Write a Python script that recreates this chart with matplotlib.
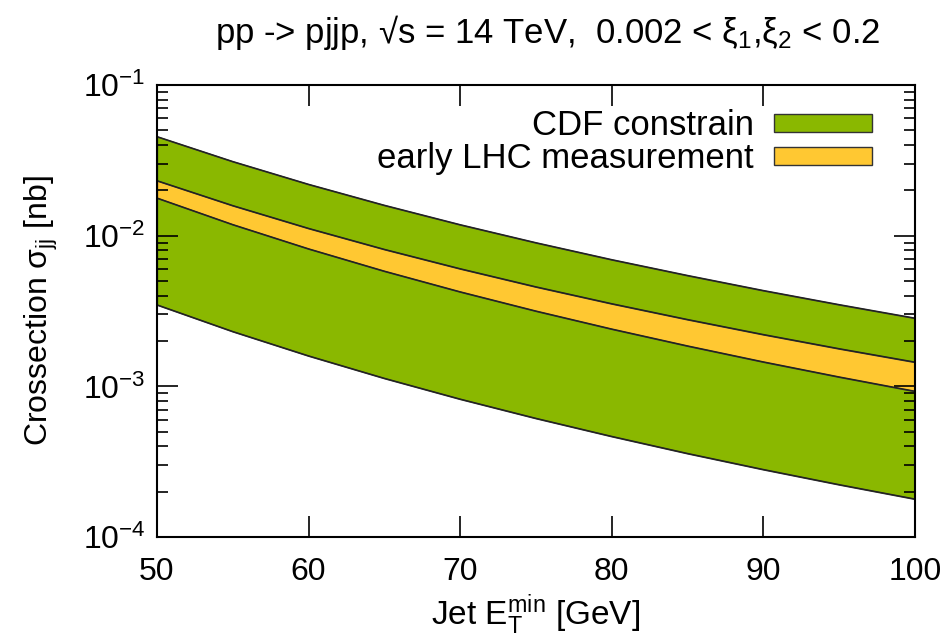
import matplotlib
matplotlib.use("Agg")
import matplotlib.pyplot as plt
from matplotlib.ticker import LogLocator, MultipleLocator, NullFormatter

plt.rcParams['font.family'] = ['Liberation Sans', 'DejaVu Sans']
plt.rcParams['mathtext.default'] = 'regular'
plt.rcParams['axes.unicode_minus'] = False

# jet E_T^min [GeV]
et_min = [50, 55, 60, 65, 70, 75, 80, 85, 90, 95, 100]

# CDF constrain band [nb]
cdf_hi = [0.0455, 0.03108, 0.02194, 0.01593, 0.01184, 0.00899, 0.00694,
          0.00545, 0.00433, 0.00349, 0.00284]
cdf_lo = [0.00348, 0.002314, 0.001595, 0.001132, 0.000824, 0.000614,
          0.000466, 0.000359, 0.000281, 0.000223, 0.000179]

# early LHC measurement band [nb]
lhc_hi = [0.0232, 0.01585, 0.01119, 0.00812, 0.00604, 0.00458, 0.00354,
          0.00278, 0.00221, 0.00178, 0.00145]
lhc_lo = [0.0178, 0.01186, 0.008187, 0.005821, 0.004245, 0.003164,
          0.002404, 0.001857, 0.001455, 0.001156, 0.000929]

green = '#8ab800'
orange = '#ffc832'

fig = plt.figure(figsize=(9.51, 6.44), dpi=100)
ax = fig.add_axes([0.165, 0.166, 0.797, 0.702])

ax.fill_between(et_min, cdf_lo, cdf_hi, color=green, linewidth=0,
                label='CDF constrain')
ax.fill_between(et_min, lhc_lo, lhc_hi, color=orange, linewidth=0,
                label='early LHC measurement')
for curve in (cdf_hi, cdf_lo, lhc_hi, lhc_lo):
    ax.plot(et_min, curve, color='#222222', linewidth=1.0)

ax.set_yscale('log')
ax.set_xlim(50, 100)
ax.set_ylim(1e-4, 1e-1)

ax.xaxis.set_major_locator(MultipleLocator(10))
ax.yaxis.set_major_locator(LogLocator(base=10, numticks=10))
ax.yaxis.set_minor_locator(LogLocator(base=10, subs=range(2, 10), numticks=10))
ax.yaxis.set_minor_formatter(NullFormatter())
ax.tick_params(which='both', direction='in', top=True, right=True, width=1.2)
ax.tick_params(axis='x', labelsize=23, pad=14)
ax.tick_params(axis='y', labelsize=23, pad=8)
ax.tick_params(which='major', length=15)
ax.tick_params(which='minor', length=8)
for s in ax.spines.values():
    s.set_linewidth(1.5)

ax.set_xlabel('Jet E$_T^{min}$ [GeV]', fontsize=24, labelpad=4)
ax.set_ylabel('Crossection σ$_{jj}$ [nb]', fontsize=23)
ax.yaxis.set_label_coords(-0.128, 0.5)
ax.set_title('pp -> pjjp, √s = 14 TeV,  0.002 < ξ$_1$,ξ$_2$ < 0.2',
             fontsize=25, pad=30, x=0.516)

handles, labels = ax.get_legend_handles_labels()
for h in handles:
    h.set_edgecolor('#333333')
    h.set_linewidth(1.0)
ax.legend(handles, labels, loc='upper right', frameon=False, markerfirst=False,
          fontsize=25, handlelength=2.8, handleheight=0.45, labelspacing=0.0,
          handletextpad=0.6, borderaxespad=0.3, bbox_to_anchor=(0.975, 1.0))

fig.savefig('out.png', dpi=100)
